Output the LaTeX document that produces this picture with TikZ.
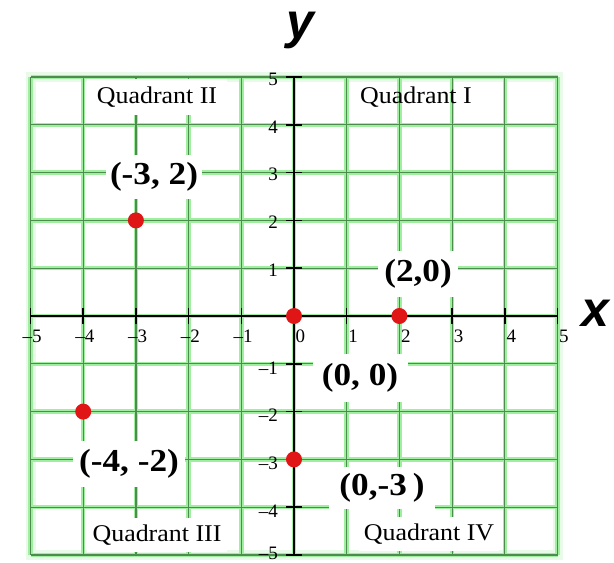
\documentclass[tikz,border=0pt]{standalone}
\usepackage{fontspec}
\setmainfont{Liberation Serif}
\newfontfamily\axfont{Liberation Sans}
\definecolor{gridcore}{HTML}{4C8C4C}
\definecolor{gridglow}{HTML}{A0EEA0}
\definecolor{dotred}{HTML}{E01515}
\begin{document}
\begin{tikzpicture}[x=1pt,y=-1pt,
  glowline/.style={draw=gridglow,line width=4.5pt},
  coreline/.style={draw=gridcore,line width=1.2pt},
  axisline/.style={draw=black,line width=1.7pt},
  tickline/.style={draw=black,line width=1.5pt},
  ticklab/.style={inner sep=0pt,font=\fontsize{19}{19}\selectfont},
  quadlab/.style={fill=white,inner sep=0pt,font=\fontsize{24}{24}\selectfont},
  ptlab/.style={fill=white,inner sep=0pt,font=\fontsize{32}{32}\selectfont\bfseries},
  axlab/.style={inner sep=0pt,font=\fontsize{50}{50}\selectfont\axfont\bfseries\itshape},
  ptdot/.style={circle,fill=dotred,inner sep=0pt,minimum size=16pt}]
\useasboundingbox (0,0) rectangle (614,563);
% halo around grid
\draw[gridglow!60,line width=10pt,opacity=0.4] (30.5,77) rectangle (557.5,555);
% grid
\foreach \i in {-5,...,5} {
  \draw[glowline] ({294+52.7*\i},77) -- ({294+52.7*\i},555);
  \draw[glowline] (30.5,{316-47.8*\i}) -- (557.5,{316-47.8*\i});
}
\foreach \i in {-5,...,5} {
  \draw[coreline] ({294+52.7*\i},77) -- ({294+52.7*\i},555);
  \draw[coreline] (30.5,{316-47.8*\i}) -- (557.5,{316-47.8*\i});
}
% quadrant labels
\node[quadlab,minimum width=140pt,minimum height=36pt] (q2) at (157,97) {\scalebox{1.08}[1]{Quadrant II}};
\node[inner sep=0pt,font=\fontsize{24}{24}\selectfont] (q1) at (416,97) {\scalebox{1.08}[1]{Quadrant I}};
\node[quadlab,minimum width=140pt,minimum height=34pt] (q3) at (157,535) {\scalebox{1.08}[1]{Quadrant III}};
\node[quadlab,minimum width=140pt,minimum height=34pt] (q4) at (429,534) {\scalebox{1.08}[1]{Quadrant IV}};
% point labels
\node[ptlab,minimum width=96pt,minimum height=44pt] (l1) at (154,177) {\scalebox{1.1}[1]{(-3, 2)}};
\node[ptlab,minimum width=80pt,minimum height=46pt] (l2) at (418,274) {\scalebox{1.1}[1]{(2,0)}};
\node[ptlab,minimum width=95pt,minimum height=48pt] (l3) at (360,378) {\scalebox{1.1}[1]{(0, 0)}};
\node[ptlab,minimum width=112pt,minimum height=46pt] (l4) at (129,464) {\scalebox{1.1}[1]{(-4, -2)}};
\node[ptlab,minimum width=106pt,minimum height=42pt] (l5) at (382,488) {\scalebox{1.1}[1]{(0,-3\,)}};
% axes
\draw[axisline] (30.5,316) -- (557.5,316);
\draw[axisline] (294,77) -- (294,555);
\foreach \i in {-5,...,5} {
  \draw[tickline] ({294+52.7*\i},308) -- ({294+52.7*\i},324);
  \draw[tickline] (286,{316-47.8*\i}) -- (302,{316-47.8*\i});
}
% tick labels on x axis
\foreach \i in {0,...,5} {
  \node[ticklab,anchor=north west] (xt\i) at ({295.5+52.7*\i},330) {\i};
}
\foreach \i in {1,...,5} {
  \node[ticklab,anchor=north west] (xtm\i) at ({295.5-52.7*\i},330) {\llap{\textendash}\i};
}
% tick labels on y axis
\foreach \i in {1,...,5} {
  \node[ticklab,anchor=east] (yt\i) at (278,{318-47.8*\i}) {\i};
}
\foreach \i in {1,...,4} {
  \node[ticklab,anchor=east] (ytm\i) at (278,{320+47.8*\i}) {\textendash\i};
}
\node[ticklab,anchor=east] (ytm5) at (278,553) {\textendash5};
% points
\node[ptdot] (p1) at ({294-3*52.7},{316-2*47.8}) {};
\node[ptdot] (p2) at (294,316) {};
\node[ptdot] (p3) at ({294+2*52.7},316) {};
\node[ptdot] (p4) at ({294-4*52.7},{316+2*47.8}) {};
\node[ptdot] (p5) at (294,{316+3*47.8}) {};
% axis labels
\node[axlab] (ylab) at (300,30) {y};
\node[axlab] (xlab) at (595,313) {x};
\end{tikzpicture}
\end{document}
